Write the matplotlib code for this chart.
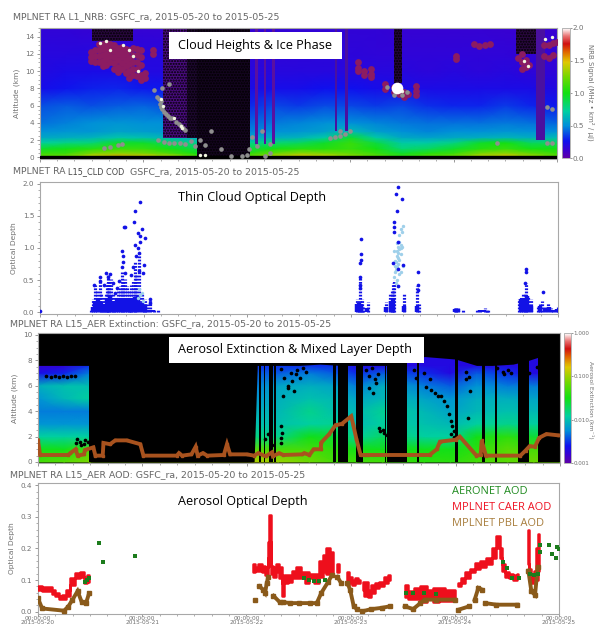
import numpy as np
import matplotlib
matplotlib.use("Agg")
import matplotlib.pyplot as plt
from matplotlib.colors import LinearSegmentedColormap, Normalize, LogNorm
from matplotlib.ticker import MultipleLocator, NullFormatter

W, H = 595, 627
GREY = '#707070'

# ---------- panel 1: NRB curtain ----------
nrb_t = [0, .25, .5, .75, 1, 1.25, 1.5, 1.75, 2, 2.25, 2.5, 2.75, 3, 3.25, 3.5, 3.75, 4, 4.25, 4.5, 4.75, 5]
nrb_h = [0, .5, 1, 1.7, 2.3, 3, 4, 6, 8, 10, 12, 15]
nrb = [
 [1.2, 1.25, 1.45, 1.55, 1.5, 1.4, 1.2, 1.0, 1.2, 1.4, 1.5, 1.45, 1.3, 1.2, 1.1, 1.2, 1.25, 1.4, 1.5, 1.35, 1.2],
 [1.1, 1.1, 1.25, 1.3, 1.25, 1.15, 1.0, .9, 1.05, 1.2, 1.3, 1.25, 1.2, 1.1, .95, 1.05, 1.1, 1.25, 1.3, 1.2, 1.1],
 [.95, 1.0, 1.05, 1.1, 1.1, 1.0, .9, .8, .9, 1.0, 1.05, 1.05, 1.1, 1.0, .8, .85, .95, 1.05, 1.1, 1.0, 1.0],
 [.72, .78, .8, .95, .95, .85, .75, .7, .75, .8, .85, .95, 1.1, .9, .7, .7, .78, .95, 1.0, .85, .85],
 [.58, .6, .62, .68, .66, .62, .58, .55, .58, .6, .62, .7, .95, .7, .58, .56, .58, .6, .62, .6, .65],
 [.5, .52, .52, .56, .54, .52, .5, .46, .48, .5, .52, .55, .65, .55, .5, .48, .5, .5, .52, .5, .5],
 [.44, .47, .5, .52, .5, .5, .46, .44, .42, .46, .48, .5, .5, .48, .46, .44, .44, .44, .46, .44, .42],
 [.38, .4, .38, .4, .42, .38, .36, .33, .3, .36, .34, .37, .36, .34, .36, .32, .3, .3, .34, .3, .28],
 [.24, .27, .29, .3, .28, .28, .24, .24, .22, .24, .24, .26, .26, .24, .22, .22, .22, .22, .22, .22, .2],
 [.2, .22, .22, .22, .2, .2, .2, .18, .18, .18, .18, .18, .18, .18, .18, .17, .18, .17, .18, .16, .16],
 [.18, .18, .19, .19, .18, .18, .16, .16, .16, .16, .16, .17, .17, .16, .16, .16, .16, .16, .16, .15, .15],
 [.15, .15, .14, .14, .14, .14, .14, .14, .14, .15, .15, .15, .15, .15, .14, .14, .14, .14, .13, .13, .13],
]
# dark attenuated columns: start day, end day, base km, top km
dark_t0 = [1.19, 1.42, 1.52, .50, .66, 2.08, 2.165, 2.24, 2.85, 2.95, 3.42, 4.60, 4.80]
dark_t1 = [1.42, 1.52, 2.03, .90, .82, 2.11, 2.19, 2.27, 2.87, 2.98, 3.50, 4.80, 4.88]
dark_b  = [2.2, 2.2, 0.1, 13.5, 13.5, 1.5, 1.5, 1.5, 3, 3, 8.6, 12, 2]
dark_h  = [15, 15, 15, 15, 15, 15, 15, 15, 15, 15, 15, 15, 15]
dark_c  = ['#4a0c80', '#1e0830', '#14051f', '#2a0840', '#2a0840', '#5a10a0', '#5a10a0', '#5a10a0', '#4a10a0', '#4a10a0', '#240636', '#2a0840', '#4a10a0']

cloud_t = [.495,.495,.495,.53,.53,.53,.57,.57,.57,.57,.61,.61,.61,.61,.61,.64,.64,.64,.64,.64,.68,.68,.68,.68,
           .715,.715,.715,.715,.715,.75,.75,.75,.75,.75,.79,.79,.79,.79,.79,.83,.83,.83,.83,.83,
           .86,.86,.86,.86,.86,.90,.90,.90,.90,.90,.935,.935,.935,.935,.935,.98,.98,.98,.98,.98,1.02,1.02,1.09,1.09,
           3.08,3.08,3.08,3.13,3.13,3.2,3.2,3.2,
           3.34,3.34,3.42,3.42,3.47,3.47,3.52,3.52,3.56,3.64,3.64,3.64,
           4.2,4.25,4.3,4.35,4.02,4.02,
           4.62,4.66,4.66,4.7,4.7,4.73,4.66,4.87,4.92,4.96,4.87,4.92,4.96,5.0]
cloud_a = [12.2,11.6,11.2,12.4,11.7,11.1,13.1,12.5,11.8,11.0,13.2,12.6,11.9,11.2,10.6,13.3,12.7,12.0,11.4,10.7,13.2,12.5,11.7,11.0,
           13.0,12.3,11.6,10.9,10.2,12.7,12.0,11.3,10.5,9.9,12.8,12.2,11.6,10.9,10.2,12.6,12.0,11.3,10.6,9.8,
           12.4,11.5,10.8,10.0,9.2,12.7,11.9,11.0,10.2,9.5,12.6,11.9,11.1,10.2,9.4,12.5,11.6,10.7,9.6,9.0,9.8,9.2,12.5,12.0,
           11.0,10.4,10.0,10.0,9.5,10.3,9.7,9.3,
           8.5,7.9,8.2,7.6,8.0,7.3,7.6,7.0,7.4,8.3,7.7,7.2,
           13.1,12.9,13.0,13.2,11.7,11.4,
           11.5,12.0,11.0,11.3,10.5,10.7,10.2,11.7,11.5,11.9,13.0,13.0,13.3,13.4]
ice_t = [1.13,1.17,1.17,1.2,1.24,1.28,1.32,1.36,1.4,1.18,1.25,1.1,1.14,1.2,1.3,1.4,1.5,1.55,1.75,1.85,1.95,2.0,2.02,2.05,2.1,2.22,2.22,2.18,2.15,
         2.8,2.85,2.9,2.95,3.0,2.9,.62,.68,.75,.79,3.36,3.42,3.5,3.55,4.9,4.95,4.9,4.95,4.42,1.15,1.16,1.18,1.22,1.26,1.34,1.38,1.46,1.25,1.35,1.6,1.65]
ice_a = [7,6.5,5.8,5.3,4.8,4.5,4.1,3.6,3.2,8,8.5,7.8,2,1.8,1.6,1.5,1.3,2,1,.2,.2,.3,1,2.3,1.3,1.5,.5,.1,3,
         2.2,2.4,2.5,2.7,3,3,1.1,1.2,1.4,1.5,8.2,7.2,7.2,7.6,1.7,1.7,5.8,5.6,1.7,6.8,6.2,5.6,5.0,4.6,3.9,3.4,1.9,1.7,1.6,1.4,3.0]
bright_t = [.58,.64,.68,.8,.86,.9,.95,1.17,1.19,1.3,1.36,1.37,3.43,3.5,4.68,4.72,4.88,4.95,1.55,1.6]
bright_a = [13.3,13.5,12.5,13.0,12.5,11.8,10,6.8,6,4.6,3.6,3.4,8.3,7.7,11.2,10.6,13.7,13.9,.3,.3]

# ---------- panel 2: thin cloud optical depth ----------
cod_stem_t = [.495,.51,.53,.55,.576,.59,.605,.62,.635,.65,.66,.67,.686,.70,.715,.73,.75,.77,.79,.805,.82,.835,.855,.87,.88,.90,.917,.93,.954,.98,1.0,1.01,1.03,1.064,1.10,1.137,
              3.063,3.075,3.09,3.105,3.118,3.166,3.338,3.38,3.393,3.41,3.42,3.51,3.643,3.655,4.006,4.02,4.035,4.083,4.219,4.25,4.292,4.31,4.329,
              4.622,4.64,4.659,4.68,4.695,4.71,4.743,4.806,4.825,4.842,4.87,4.905,4.93,4.952,4.98,5.0]
cod_stem_v = [.05,.2,.42,.35,.5,.3,.15,.25,.3,.45,.58,.5,.52,.3,.2,.25,.35,.4,.62,.5,.52,.4,.35,.25,.42,.5,.8,.6,.9,.3,.15,.2,.12,.2,.05,.03,
              .2,.15,.55,.2,.1,.15,.15,.3,.35,.45,.5,.3,.4,.12,.06,.07,.07,.03,.03,.04,.06,.05,.03,
              .2,.25,.3,.28,.45,.25,.2,.1,.13,.18,.08,.14,.06,.05,.05,.08]
cod_base_t = [.51,.53,.56,.59,.62,.65,.68,.71,.74,.77,.80,.83,.86,.89,.92,.95,.98,1.01,1.05,1.09,3.06,3.08,3.1,3.16,3.34,3.39,3.41,3.51,3.64,4.01,4.03,4.25,4.29,4.64,4.67,4.7,4.74,4.83,4.87,4.91,4.95,4.99]
cod_base_v = [.08,.18,.2,.16,.12,.2,.25,.18,.2,.22,.22,.2,.22,.2,.24,.25,.14,.1,.04,.03,.12,.14,.12,.06,.08,.18,.2,.1,.1,.05,.05,.03,.04,.2,.22,.25,.1,.1,.05,.08,.04,.05]
cod_t = [0,.97,.917,.906,.82,.807,.98,.943,.965,1.01,.796,.917,.943,.965,.928,.954,.80,.79,1.0,.9,.954,.64,.68,.825,.576,.525,1.064,.88,.76,.99,1.064,.80,.72,.66,.62,.58,.70,.74,
         3.10,3.10,3.10,3.09,3.09,3.456,3.433,3.49,3.45,3.42,3.415,3.415,3.46,3.41,3.5,3.46,3.46,3.646,4.695,4.695,4.853,4.677,3.09,3.09,3.646,3.646]
cod_v = [.01,1.72,1.58,1.41,1.33,1.32,1.3,1.24,1.19,1.15,.96,1.05,1.0,1.1,.87,.92,.87,.71,.74,.71,.64,.61,.6,.61,.48,.43,.2,.58,.48,.61,.14,.78,.3,.55,.42,.55,.46,.38,
         1.14,.91,.82,.77,.55,1.95,1.84,1.77,1.58,1.4,1.32,1.25,1.1,.77,.73,.67,.4,.62,.68,.62,.32,.46,.42,.38,.35,.42]
cod_lt_t = [3.42,3.44,3.46,3.48,3.5,3.43,3.45,3.47,3.49,3.44,3.46,3.48,3.42,3.45,3.47,3.5,3.44,3.46,3.48,3.45,3.47,3.49,3.46,3.48,3.47,.95,.98,.96,.99,.97,3.43,3.45,3.47,3.44,3.46,3.48,3.43,3.45]
cod_lt_v = [.55,.7,.85,1.0,1.35,.8,.95,1.1,1.25,.65,.75,.9,.95,.5,.6,.72,.45,1.02,1.3,1.08,.82,1.02,.4,.62,1.2,.22,.3,.36,.18,.27,.72,.88,.98,.78,.92,1.05,.62,.7]

# ---------- panel 3: aerosol extinction ----------
ext_t = [0, .25, .49, 2.07, 2.3, 2.6, 2.85, 3.05, 3.3, 3.7, 3.95, 4.2, 4.5, 4.75, 5]
ext_h = [0, 1, 2, 3, 4, 5, 6, 7, 7.6, 10]
ext = [
 [.05, .06, .08, .12, .10, .07, .05, .05, .05, .04, .04, .05, .06, .07, .07],
 [.03, .03, .05, .06, .05, .05, .04, .03, .03, .03, .03, .04, .06, .05, .05],
 [.012, .012, .012, .015, .014, .03, .025, .012, .018, .012, .012, .03, .04, .025, .025],
 [.006, .006, .006, .01, .01, .012, .013, .009, .012, .01, .009, .012, .014, .012, .012],
 [.005, .005, .005, .008, .009, .014, .01, .009, .013, .009, .007, .009, .01, .009, .009],
 [.006, .009, .012, .006, .008, .01, .009, .007, .009, .007, .006, .008, .008, .007, .007],
 [.008, .01, .01, .005, .007, .008, .007, .005, .008, .005, .004, .006, .005, .005, .005],
 [.0022, .0028, .005, .004, .004, .005, .004, .003, .004, .003, .002, .004, .003, .002, .002],
 [.0016, .0017, .003, .003, .003, .003, .003, .002, .002, .002, .002, .002, .002, .002, .002],
 [.0015, .0015, .002, .002, .002, .002, .002, .002, .002, .002, .002, .002, .002, .002, .002],
]
env_t = [0, .49, .5, 2.07, 2.1, 2.3, 2.5, 2.7, 2.9, 3.1, 3.35, 3.5, 3.6, 3.7, 3.85, 4.0, 4.2, 4.35, 4.55, 4.7, 4.85, 5]
env_a = [7.6, 7.6, 0, 0, 7.6, 7.6, 7.6, 7.7, 7.6, 7.6, 7.6, 8.0, 7.9, 8.3, 8.2, 8.1, 7.6, 7.6, 7.7, 8.0, 8.4, 3]
gap_t0 = [.49, 2.115, 2.16, 2.215, 2.26, 2.826, 2.87, 3.05, 3.32, 3.34, 3.63, 3.995, 4.255, 4.38, 4.6, 4.79]
gap_t1 = [2.07, 2.135, 2.175, 2.25, 2.275, 2.855, 2.965, 3.115, 3.335, 3.53, 3.645, 4.025, 4.28, 4.40, 4.705, 5.01]
blk_t = [.08,.12,.16,.2,.24,.28,.32,.35,.36,.40,.44,.48,.37,.41,.45,
         2.33,2.36,2.39,2.42,2.45,2.48,2.51,2.54,2.57,2.35,2.39,2.43,2.47,2.33,2.34,2.33,2.33,2.17,2.2,2.24,
         3.14,3.17,3.2,3.23,3.26,3.17,3.21,3.24,3.28,3.31,3.34,3.3,3.27,
         3.72,3.76,3.8,3.83,3.86,3.89,3.92,3.94,3.96,3.97,3.98,3.96,3.98,3.99,
         4.1,4.13,4.14,4.12,4.4,4.45,4.5,4.46,4.53,4.7,4.78,4.1,3.7,3.75,3.6,3.62]
blk_a = [6.8,6.7,6.8,6.7,6.8,6.7,6.8,6.8,1.5,1.6,1.4,1.6,1.8,1.3,1.7,
         7.3,6.6,6.0,7.0,5.6,7.2,6.6,7.4,7.1,5.2,5.8,6.4,6.9,2.8,2.3,1.9,1.5,1.8,2.2,1.3,
         7.2,6.8,7.4,6.5,6.9,5.8,5.4,6.2,2.4,2.3,2.1,2.5,2.7,
         5.9,5.7,5.4,5.2,5.2,4.8,4.4,3.8,3.2,2.8,2.4,2.2,2.0,1.9,
         7.1,6.7,5.6,3.5,7.4,7.1,7.2,6.9,7.0,7.0,7.5,6.5,7.0,6.5,7.2,6.6]
pbl_t = [0,.02,.29,.31,.36,.38,.44,.45,.53,.55,.62,.627,.69,.74,.85,.98,1.01,1.33,1.35,1.38,1.47,1.51,1.53,1.58,1.62,1.78,1.81,1.84,2.0,2.07,2.11,2.18,2.24,2.25,2.31,2.35,2.53,2.55,2.6,2.64,2.71,2.71,2.79,2.85,2.91,3.0,3.02,3.05,3.09,3.13,3.16,3.75,3.82,3.85,4.0,4.04,4.2,4.24,4.25,4.29,4.62,4.67,4.71,4.76,4.8,4.87,4.98]
pbl_a = [1.7,.55,.55,.7,1.0,.5,.6,.95,1.15,.5,.5,1.5,1.4,1.7,1.7,1.4,.5,.5,.7,.5,.6,1.2,.5,.7,.5,.55,1.4,.6,.6,.5,.7,.45,.75,.45,.7,.55,.6,.7,.55,1.0,1.0,1.5,2.2,2.9,3.0,3.6,2.9,1.8,.55,.55,.55,.55,1.0,1.6,1.75,2.0,.5,.55,1.7,.5,.5,.9,1.25,1.2,1.9,2.2,2.1]

# ---------- panel 4: aerosol optical depth (CAER shown as low/high band per segment) ----------
caer_t = [[0,.07,.11,.15,.18,.22,.25,.29,.33,.38,.42,.46,.49],
          [2.067,2.10,2.13,2.16,2.195,2.21,2.227,2.243,2.275,2.30,2.323,2.355,2.37,2.42,2.46,2.5,2.54,2.58,2.62,2.675,2.72,2.75,2.786,2.81,2.835],
          [2.873,2.89],
          [2.97,3.0,3.03,3.06,3.09],
          [3.116,3.15,3.18,3.215,3.25,3.3,3.34,3.378],
          [3.52,3.58,3.64,3.7,3.76,3.82,3.88,3.94,4.0],
          [4.035,4.08,4.12,4.17,4.22,4.27,4.33,4.38,4.42,4.44,4.47,4.5,4.54,4.58,4.61],
          [4.706,4.72,4.745,4.77,4.795,4.81]]
caer_lo = [[.068,.064,.066,.055,.048,.04,.04,.05,.085,.105,.11,.09,.095],
           [.125,.13,.13,.125,.115,.17,.22,.12,.11,.125,.105,.05,.09,.095,.105,.105,.105,.09,.105,.09,.11,.125,.12,.12,.12],
           [.125,.125],
           [.085,.09,.085,.09,.09],
           [.07,.05,.045,.06,.075,.08,.09,.1],
           [.045,.04,.04,.03,.04,.03,.035,.035,.035],
           [.08,.09,.105,.125,.135,.14,.15,.17,.2,.17,.13,.11,.105,.1,.105],
           [.15,.11,.09,.09,.1,.13]]
caer_hi = [[.082,.078,.078,.068,.06,.05,.052,.068,.105,.122,.127,.11,.115],
           [.15,.14,.15,.145,.14,.22,.305,.145,.14,.15,.14,.09,.115,.115,.13,.14,.125,.125,.12,.12,.16,.18,.20,.185,.19],
           [.15,.15],
           [.125,.11,.10,.105,.10],
           [.095,.095,.07,.085,.09,.095,.11,.115],
           [.085,.065,.075,.08,.07,.075,.075,.07,.07],
           [.09,.105,.125,.135,.155,.16,.17,.2,.24,.2,.15,.125,.12,.115,.12],
           [.26,.135,.12,.13,.2,.245]]
pbl_aod_t = [[0,.04,.25,.29,.33,.38,.42,.46,.49],
             [2.083],
             [2.125,2.16,2.18,2.195,2.21],
             [2.26,2.32,2.355,2.42,2.5,2.61,2.675,2.72,2.786,2.82],
             [2.873,2.91],
             [2.97,2.995,3.03,3.06],
             [3.11,3.2,3.3,3.378],
             [3.52,3.6,3.67,3.71,3.82,4.0],
             [4.035,4.14],
             [4.19,4.226,4.26],
             [4.29,4.4,4.6],
             [4.706,4.735,4.77,4.795]]
pbl_aod_v = [[.042,.01,.003,.016,.037,.065,.03,.026,.058],
             [.037],
             [.08,.07,.06,.09,.11],
             [.05,.03,.03,.027,.027,.027,.027,.06,.095,.115],
             [.11,.09],
             [.09,.07,.017,.008],
             [.001,.008,.012,.017],
             [.017,.008,.027,.038,.038,.038],
             [.006,.017],
             [.037,.075,.07],
             [.027,.022,.022],
             [.13,.064,.053,.14]]
aeronet_t = [.455,.47,.49,.59,.62,.93,2.55,2.6,2.65,2.7,2.75,3.53,3.6,3.7,3.82,4.46,4.5,4.55,4.62,4.72,4.76,4.8,4.82,4.82,4.9,4.93,4.97,4.98,5.0]
aeronet_v = [.095,.10,.105,.216,.156,.175,.105,.10,.097,.097,.10,.058,.058,.058,.057,.158,.137,.105,.107,.12,.115,.12,.21,.19,.21,.184,.17,.205,.20]

day_labels = ['2015-05-20', '2015-05-21', '2015-05-22', '2015-05-23', '2015-05-24', '2015-05-25']
cbar1_ticks = [0, .5, 1, 1.5, 2]
cbar3_ticks = [.001, .01, .1, 1]

cmap = LinearSegmentedColormap.from_list('mpl', [
    (0, '#5c00a8'), (.06, '#3a00d0'), (.13, '#0f10ee'), (.25, '#0090d8'), (.36, '#00d0a0'),
    (.5, '#12e012'), (.62, '#70d800'), (.74, '#e0c800'), (.82, '#e06000'), (.88, '#d01010'),
    (.94, '#e87070'), (1, '#ffffff')])

fig = plt.figure(figsize=(W / 100, H / 100), dpi=100, facecolor='white')


def box(x0, y0, x1, y1):
    return [x0 / W, 1 - y1 / H, (x1 - x0) / W, (y1 - y0) / H]


def ftext(x, y, s, **kw):
    kw.setdefault('ha', 'left')
    kw.setdefault('va', 'center')
    return fig.text(x / W, 1 - y / H, s, **kw)


def white_box(x0, y0, x1, y1):
    fig.add_artist(plt.Rectangle((x0 / W, 1 - y1 / H), (x1 - x0) / W, (y1 - y0) / H,
                                 transform=fig.transFigure, fc='white', ec='none', zorder=5))


def style(ax, major_y, minor_y):
    ax.set_xlim(0, 5)
    ax.xaxis.set_major_locator(MultipleLocator(1))
    ax.xaxis.set_minor_locator(MultipleLocator(1 / 6))
    ax.yaxis.set_major_locator(MultipleLocator(major_y))
    ax.yaxis.set_minor_locator(MultipleLocator(minor_y))
    ax.xaxis.set_major_formatter(NullFormatter())
    ax.tick_params(which='major', direction='out', length=2.5, width=.5, colors=GREY, labelsize=5.2, pad=1.5)
    ax.tick_params(which='minor', direction='out', length=1.2, width=.4, colors=GREY)
    for s in ax.spines.values():
        s.set_color('#a8a8a8')
        s.set_linewidth(.8)


def cbar(mappable, rect, ticks, labels, size):
    cax = fig.add_axes(box(*rect))
    cb = fig.colorbar(mappable, cax=cax)
    cb.set_ticks(ticks, labels=labels)
    cb.ax.minorticks_off()
    cb.ax.tick_params(length=1.5, width=.5, colors=GREY, labelsize=size, pad=.5)
    cb.outline.set_edgecolor('#a8a8a8')
    cb.outline.set_linewidth(.6)
    return cb


title_kw = dict(fontsize=6.75, color='#666666', family='DejaVu Sans')
label_kw = dict(fontsize=5.4, color=GREY, labelpad=4)
head_kw = dict(fontsize=9.1, color='black', family='Open Sans')

# Panel 1
ax1 = fig.add_axes(box(40, 28, 557, 159))
m1 = ax1.pcolormesh(nrb_t, nrb_h, np.array(nrb), cmap=cmap, norm=Normalize(0, 2), shading='gouraud', zorder=1)
for t0, t1, b, h, c in zip(dark_t0, dark_t1, dark_b, dark_h, dark_c):
    ax1.bar(t0, h - b, t1 - t0, bottom=b, align='edge', color=c, zorder=2, hatch='......',
            edgecolor='#000000' if c not in ('#5a10a0', '#4a10a0') else c, linewidth=0)
ax1.axhspan(-.2, .1, color='black', zorder=3)
ax1.scatter(cloud_t, cloud_a, s=24, marker='o', color='#8c1c62', linewidths=0, zorder=4)
ax1.scatter(ice_t, ice_a, s=11, marker='o', color='#8f8f8f', linewidths=0, zorder=5)
ax1.scatter(bright_t, bright_a, s=6, marker='o', color='#f2f6e0', linewidths=0, zorder=6)
ax1.scatter([3.45], [8.0], s=70, marker='o', color='#ffffff', linewidths=0, zorder=6)
ax1.set_ylim(-.2, 15)
style(ax1, 2, .5)
ax1.set_ylabel('Altitude (km)', **label_kw)
cbar(m1, (562, 28, 570, 158), cbar1_ticks, ['0.0', '0.5', '1.0', '1.5', '2.0'], 5.2)
ftext(591, 92, 'NRB Signal (MHz \u2022 km\u00b2 / \u00b5J)', rotation=-90, fontsize=5, color=GREY, ha='center')
ftext(12.5, 17, 'MPLNET RA L1_NRB: GSFC_ra, 2015-05-20 to 2015-05-25', **title_kw)
white_box(169, 32, 342, 59)
ftext(178, 46, 'Cloud Heights & Ice Phase', zorder=6, **head_kw)

# Panel 2
ax2 = fig.add_axes(box(40, 182, 558, 314))
ax2.vlines(cod_stem_t, 0, cod_stem_v, color='#1212e6', lw=2.3, linestyles=(0, (.55, .45)), zorder=3)
ax2.vlines(cod_base_t, 0, cod_base_v, color='#1212e6', lw=3.2, zorder=3)
ax2.scatter(cod_lt_t, cod_lt_v, s=6, marker='o', color='#9fd0ea', linewidths=0, zorder=4)
ax2.scatter(cod_t, cod_v, s=7, marker='o', color='#1212e6', linewidths=0, zorder=5)
ax2.set_ylim(-.03, 2.03)
style(ax2, .5, .1)
ax2.yaxis.set_major_formatter(lambda v, p: f'{v:.1f}')
ax2.set_ylabel('Optical Depth', **label_kw)
ftext(12.5, 172, 'MPLNET RA', **title_kw)
ftext(68, 172, 'L15_CLD COD', fontsize=5.9, color='#444444', family='DejaVu Sans')
ftext(130, 172, 'GSFC_ra, 2015-05-20 to 2015-05-25', **title_kw)
ftext(178, 197, 'Thin Cloud Optical Depth', **head_kw)

# Panel 3
ax3 = fig.add_axes(box(38, 333, 560, 463))
ax3.set_facecolor('black')
m3 = ax3.pcolormesh(ext_t, ext_h, np.array(ext), cmap=cmap, norm=LogNorm(.001, 1), shading='gouraud', zorder=1)
ax3.fill_between(env_t, env_a, 10.2, color='black', lw=0, zorder=2)
ax3.bar(gap_t0, 10.2, np.array(gap_t1) - np.array(gap_t0), align='edge', color='black', zorder=2)
ax3.scatter(blk_t, blk_a, s=7, marker='o', color='black', linewidths=0, zorder=3)
ax3.plot(pbl_t, pbl_a, color='#a8521e', lw=2.8, marker='s', ms=1.8, solid_joinstyle='miter', zorder=6)
ax3.set_ylim(-.08, 10.15)
style(ax3, 2, .5)
ax3.set_ylabel('Altitude (km)', **label_kw)
cbar(m3, (564, 333, 571, 463), cbar3_ticks, ['0.001', '0.010', '0.100', '1.000'], 4.1)
ftext(591.5, 400, 'Aerosol Extinction (km\u207b\u00b9)', rotation=-90, fontsize=4.4, color=GREY, ha='center')
ftext(9.5, 324, 'MPLNET RA L15_AER Extinction: GSFC_ra, 2015-05-20 to 2015-05-25', **title_kw)
white_box(169, 337, 424, 363)
ftext(178, 350, 'Aerosol Extinction & Mixed Layer Depth', zorder=6, **head_kw)

# Panel 4
ax4 = fig.add_axes(box(38, 483, 559, 614))
for t, lo, hi in zip(caer_t, caer_lo, caer_hi):
    ax4.fill_between(t, lo, hi, step='mid', color='#ee0f1c', lw=1.8, zorder=3)
for t, v in zip(pbl_aod_t, pbl_aod_v):
    ax4.plot(t, v, color='#8a5a1a', lw=2.8, marker='s', ms=3, solid_joinstyle='miter', zorder=4)
ax4.scatter(aeronet_t, aeronet_v, s=5, marker='s', color='#1c7c1c', linewidths=0, zorder=5)
ax4.set_ylim(-.0075, .4075)
style(ax4, .1, .02)
ax4.yaxis.set_major_formatter(lambda v, p: f'{v:.1f}')
ax4.set_xticks(range(6), [f'00:00:00\n{d}' for d in day_labels], linespacing=.8)
ax4.tick_params(axis='x', which='major', labelsize=4.2, pad=0, length=1.5)
ax4.set_ylabel('Optical Depth', **label_kw)
ftext(9.5, 475, 'MPLNET RA L15_AER AOD: GSFC_ra, 2015-05-20 to 2015-05-25', **title_kw)
ftext(178, 501, 'Aerosol Optical Depth', **head_kw)
leg_kw = dict(fontsize=7.9, family='Open Sans', zorder=6)
ftext(452, 492, 'AERONET AOD', color='#1f8a1f', **leg_kw)
ftext(452, 508, 'MPLNET CAER AOD', color='#ee1020', **leg_kw)
ftext(452, 524, 'MPLNET PBL AOD', color='#a87d3c', **leg_kw)

fig.savefig('out.png', dpi=100)
